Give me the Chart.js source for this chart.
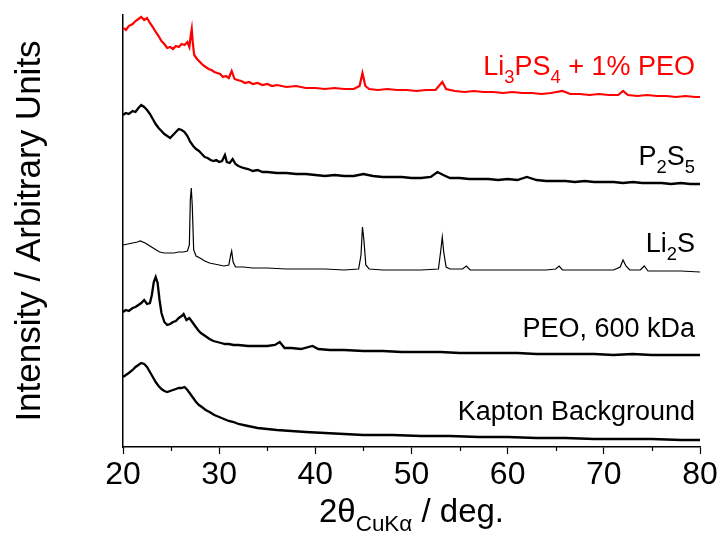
<!DOCTYPE html>
<html>
<head>
<meta charset="utf-8">
<script src="https://cdn.jsdelivr.net/npm/chart.js@4.4.1/dist/chart.umd.min.js"></script>
<style>
  html, body { margin: 0; padding: 0; background: #fff; }
  #wrap { width: 723px; height: 540px; }
</style>
</head>
<body>
<div id="wrap"><canvas id="xrd"></canvas></div>
<script>
// datos (2theta en grados, intensidad en unidades arbitrarias, ya desplazadas)
const li3ps4X = [20.0,20.3,20.6,21.0,21.3,21.6,21.9,22.2,22.5,22.8,23.1,23.4,23.7,24.0,24.3,24.6,24.9,25.2,25.5,25.8,26.1,26.4,26.7,26.9,27.05,27.15,27.25,27.4,27.7,28.0,28.3,28.6,28.9,29.2,29.5,29.8,30.1,30.4,30.7,31.0,31.3,31.6,31.9,32.3,32.7,33.1,33.5,34.0,34.5,35.0,35.5,36.0,37.0,38.0,39.0,40.0,41.0,42.0,43.0,44.0,44.6,44.9,45.2,45.6,46.5,47.5,48.5,49.5,50.5,51.5,52.5,53.2,53.6,54.5,55.5,56.5,57.5,58.5,59.5,60.5,61.5,62.5,63.5,64.5,65.7,66.5,67.5,68.5,69.5,70.5,71.5,72.0,72.5,73.5,74.5,75.5,76.5,77.5,78.5,79.5,80.0];
const li3ps4Y = [419,417,421,423,426,428,430,427,429,424,420,415,411,406,403,399,400,398,401,400,403,402,405,400,412,418,405,392,388,385,382,380,378,377,375,374,373,370,371,369,376,368,367,366,364,365,363,364,362,363,361,362,360,361,359,359,358,359,358,358,361,374,361,358,357,358,357,357,356,357,357,365,358,356,355,356,355,355,354,355,354,354,353,354,356,353,353,352,353,352,352,356,352,351,352,351,351,350,351,350,350];

const p2s5X = [20.0,20.3,20.6,21.0,21.3,21.6,21.9,22.2,22.5,22.8,23.1,23.4,23.7,24.0,24.3,24.6,24.9,25.2,25.5,25.8,26.1,26.4,26.7,27.0,27.3,27.6,27.9,28.2,28.5,28.8,29.1,29.4,29.7,30.0,30.3,30.6,30.8,31.1,31.4,31.7,32.0,32.5,33.0,33.5,34.0,34.5,35.0,36.0,37.0,38.0,39.0,40.0,41.0,42.0,43.0,44.0,45.0,46.0,47.0,48.0,49.0,50.0,51.0,52.0,52.7,53.3,54.0,55.0,56.0,57.0,58.0,59.0,60.0,61.0,62.0,63.0,64.0,65.0,66.0,67.0,68.0,69.0,70.0,71.0,72.0,73.0,74.0,75.0,76.0,77.0,78.0,79.0,80.0];
const p2s5Y = [332,334,333,336,335,339,342,340,337,333,328,323,319,316,313,311,309,312,315,318,317,315,311,305,301,298,296,293,290,289,287,286,287,285,286,292,285,284,288,283,281,279,278,276,277,275,275,274,274,273,273,272,271,272,271,271,273,271,270,270,270,269,269,270,275,272,269,269,268,268,268,267,268,267,270,267,266,266,266,265,266,265,265,265,264,265,264,264,264,263,264,263,263];

const li2sX = [20.0,20.5,21.0,21.5,21.8,22.3,22.8,23.3,23.8,24.3,24.8,25.3,25.8,26.3,26.7,26.9,27.0,27.1,27.2,27.35,27.6,28.0,28.5,29.0,29.5,30.0,30.5,31.0,31.2,31.3,31.45,31.7,32.5,33.5,35.0,37.0,39.0,41.0,43.0,44.5,44.75,44.9,45.05,45.25,45.6,47.0,49.0,51.0,52.8,53.05,53.2,53.35,53.6,54.0,55.3,55.7,56.1,58.0,60.0,62.0,64.0,65.0,65.35,65.7,67.0,69.0,71.0,71.7,72.0,72.3,72.7,73.8,74.2,74.6,76.0,78.0,80.0];
const li2sY = [202,203,204,205,206,204,201,198,195,194,194,194,195,195,196,202,247,259,242,197,191,189,186,184,183,182,181,182,192,196,185,180,180,179,179,178,178,178,177,178,192,220,207,182,178,177,177,177,178,197,210,195,180,178,178,181,177,177,177,177,177,178,181,177,177,177,177,180,187,181,177,177,181,176,176,176,175];

const peoX = [20.0,20.3,20.6,21.0,21.3,21.6,21.9,22.2,22.5,22.8,23.0,23.2,23.4,23.6,23.8,24.0,24.3,24.6,24.9,25.2,25.5,25.8,26.1,26.3,26.6,26.9,27.2,27.5,27.8,28.1,28.4,28.7,29.0,29.4,29.8,30.2,30.6,31.0,31.5,32.0,33.0,34.0,35.0,35.8,36.3,36.8,37.5,38.5,39.7,40.3,41.5,43.0,45.0,47.0,49.0,51.0,53.0,55.0,57.0,59.0,61.0,63.0,65.0,67.0,69.0,71.0,73.0,75.0,77.0,79.0,80.0];
const peoY = [135,137,136,139,140,142,144,147,143,144,152,165,170,164,147,134,125,122,123,125,126,129,131,133,127,129,125,121,117,114,112,110,108,106,105,104,103,103,102,102,101,101,101,102,105,99,99,98,101,98,97,97,96,96,95,95,95,94,94,94,94,93,93,93,93,92,93,92,92,92,92];

const kaptonX = [20.0,20.3,20.6,21.0,21.3,21.6,21.9,22.2,22.5,22.8,23.1,23.4,23.7,24.0,24.3,24.6,24.9,25.2,25.5,25.8,26.1,26.4,26.7,27.0,27.3,27.6,27.9,28.2,28.6,29.0,29.5,30.0,30.5,31.0,31.5,32.0,33.0,34.0,35.0,36.0,37.5,39.0,41.0,43.0,45.0,48.0,51.0,54.0,57.0,60.0,63.0,66.0,69.0,72.0,75.0,78.0,80.0];
const kaptonY = [70,72,74,77,80,82,84,83,80,75,70,65,61,58,56,55,56,57,58,59,59,60,57,53,49,45,42,40,37,35,32,30,28,26,25,23,21,19,18,17,16,15,14,13,12,12,11,11,10,10,9,9,8,8,8,7,7];

const xTicks = [20, 30, 40, 50, 60, 70, 80];
const FONT = "'Liberation Sans', Arial, sans-serif";

// etiquetas de cada curva: [texto, subíndice?]
const curveLabels = [
  { parts: [['Li',0],['3',1],['PS',0],['4',1],[' + 1% PEO',0]], y: 75, color: '#ff0000' },
  { parts: [['P',0],['2',1],['S',0],['5',1]], y: 165, color: '#000' },
  { parts: [['Li',0],['2',1],['S',0]], y: 252, color: '#000' },
  { parts: [['PEO, 600 kDa',0]], y: 337, color: '#000' },
  { parts: [['Kapton Background',0]], y: 420, color: '#000' }
];

function toPoints(xs, ys) {
  return xs.map((x, i) => ({ x: x, y: ys[i] }));
}

// dibuja texto con subíndices alineado a la derecha
function drawRich(ctx, parts, right, base, size, color) {
  const sub = size * 0.68;
  let w = 0;
  parts.forEach(p => {
    ctx.font = (p[1] ? sub : size) + 'px ' + FONT;
    w += ctx.measureText(p[0]).width;
  });
  let x = right - w;
  ctx.fillStyle = color;
  ctx.textBaseline = 'alphabetic';
  ctx.textAlign = 'left';
  parts.forEach(p => {
    ctx.font = (p[1] ? sub : size) + 'px ' + FONT;
    ctx.fillText(p[0], x, p[1] ? base + size * 0.28 : base);
    x += ctx.measureText(p[0]).width;
  });
}

const decor = {
  id: 'decor',
  afterDraw(chart) {
    const ctx = chart.ctx;
    const xs = chart.scales.x;
    const bottom = chart.chartArea.bottom;
    ctx.save();
    // ticks menores
    ctx.strokeStyle = '#000';
    ctx.lineWidth = 1.2;
    for (let v = 25; v < 80; v += 10) {
      const px = Math.round(xs.getPixelForValue(v)) + 0.5;
      ctx.beginPath();
      ctx.moveTo(px, bottom);
      ctx.lineTo(px, bottom + 4);
      ctx.stroke();
    }
    // etiquetas de las curvas
    curveLabels.forEach(l => drawRich(ctx, l.parts, 695, l.y, 27, l.color));
    // título eje x
    const cx = (chart.chartArea.left + chart.chartArea.right) / 2;
    const parts = [['2θ',0],['CuKα',1],[' / deg.',0]];
    let w = 0;
    parts.forEach(p => {
      ctx.font = (p[1] ? 33 * 0.68 : 33) + 'px ' + FONT;
      w += ctx.measureText(p[0]).width;
    });
    drawRich(ctx, parts, cx + w / 2, 522, 33, '#000');
    // título eje y
    ctx.translate(30, 231);
    ctx.rotate(-Math.PI / 2);
    ctx.font = '35px ' + FONT;
    ctx.fillStyle = '#000';
    ctx.textAlign = 'center';
    ctx.textBaseline = 'middle';
    ctx.fillText('Intensity / Arbitrary Units', 0, 0);
    ctx.restore();
  }
};

const mk = (label, xs, ys, color, width) => ({
  label: label,
  data: toPoints(xs, ys),
  borderColor: color,
  backgroundColor: color,
  borderWidth: width,
  showLine: true,
  pointRadius: 0,
  tension: 0
});

new Chart(document.getElementById('xrd').getContext('2d'), {
  type: 'scatter',
  data: {
    datasets: [
      mk('Li3PS4 + 1% PEO', li3ps4X, li3ps4Y, '#ff0000', 2.2),
      mk('P2S5', p2s5X, p2s5Y, '#000', 2.3),
      mk('Li2S', li2sX, li2sY, '#000', 1.2),
      mk('PEO, 600 kDa', peoX, peoY, '#000', 2.3),
      mk('Kapton Background', kaptonX, kaptonY, '#000', 2.3)
    ]
  },
  options: {
    responsive: true,
    maintainAspectRatio: false,
    animation: false,
    layout: { padding: { left: 123, right: 23, top: 15, bottom: 0 } },
    plugins: { legend: { display: false }, tooltip: { enabled: false } },
    scales: {
      x: {
        type: 'linear', min: 20, max: 80,
        afterBuildTicks: s => { s.ticks = xTicks.map(v => ({ value: v })); },
        afterFit: s => { s.height = 93; },
        ticks: { font: { family: FONT, size: 32 }, color: '#000', padding: 2, maxRotation: 0 },
        grid: { display: true, drawOnChartArea: false, tickLength: 7, tickColor: '#000', tickWidth: 1.2 },
        border: { display: true, color: '#000', width: 1.5 }
      },
      y: {
        min: 0, max: 432,
        afterFit: s => { s.width = 0; },
        ticks: { display: false },
        grid: { display: false },
        border: { display: true, color: '#000', width: 1.5 }
      }
    }
  },
  plugins: [decor]
});
</script>
</body>
</html>
